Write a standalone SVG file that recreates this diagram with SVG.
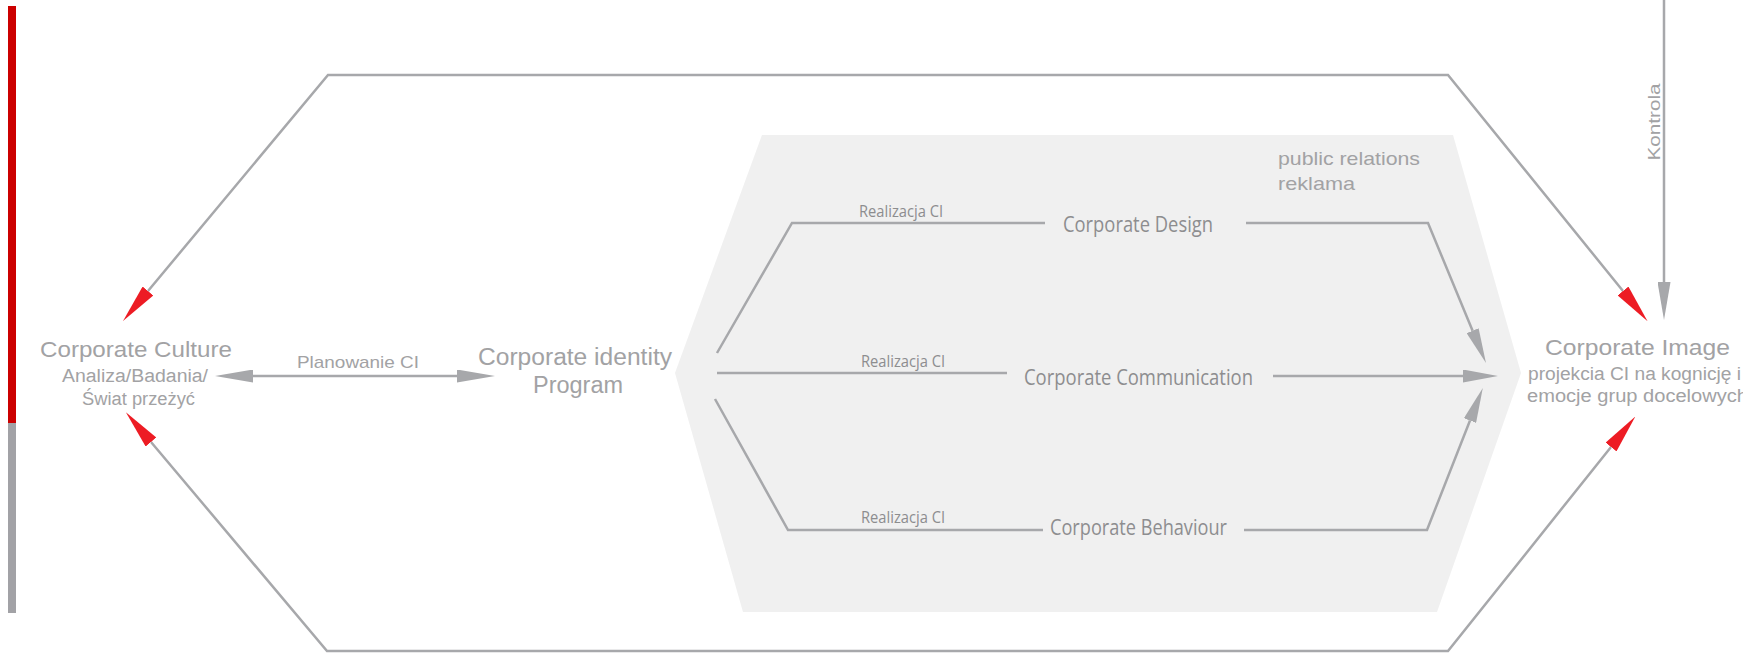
<svg xmlns="http://www.w3.org/2000/svg" width="1743" height="653" viewBox="0 0 1743 653">
  <style>
    .g { font-family: "Liberation Sans", "DejaVu Sans", sans-serif; fill: #a2a2a4; }
    .m { font-family: "Open Sans", "Liberation Sans", sans-serif; fill: #8d8d8f; }
    .ln { fill: none; stroke: #a7a8ab; stroke-width: 2.5; stroke-linejoin: miter; }
  </style>
  <defs>
    <marker id="redHead" viewBox="0 0 39 14" refX="0" refY="7" markerWidth="39" markerHeight="14" orient="auto-start-reverse" markerUnits="userSpaceOnUse">
      <path d="M0,0 L39,7 L0,14 z" fill="#ed1c24"/>
    </marker>
    <marker id="grayHead" viewBox="0 0 38 13" refX="0" refY="6.5" markerWidth="38" markerHeight="13" orient="auto-start-reverse" markerUnits="userSpaceOnUse">
      <path d="M0,0 L38,6.5 L0,13 z" fill="#a7a8ab"/>
    </marker>
    <marker id="grayHeadS" viewBox="0 0 35 13" refX="0" refY="6.5" markerWidth="35" markerHeight="13" orient="auto" markerUnits="userSpaceOnUse">
      <path d="M0,0 L35,6.5 L0,13 z" fill="#a7a8ab"/>
    </marker>
  </defs>

  <g id="sidebar">
    <rect x="8" y="6" width="8" height="417" fill="#cc0000"/>
    <rect x="8" y="423" width="8" height="190" fill="#a2a2a6"/>
  </g>

  <g id="realization-area">
    <polygon points="762,135 1453,135 1521,373 1437,612 743,612 675,373" fill="#f0f0f0"/>
  </g>

  <g id="connectors">
    <path class="ln" d="M148,291 L328,75 L1448,75 L1623,291" marker-start="url(#redHead)" marker-end="url(#redHead)"/>
    <path class="ln" d="M151,442 L327,651 L1448,651 L1611,447" marker-start="url(#redHead)" marker-end="url(#redHead)"/>
    <path class="ln" d="M253,376 L457,376" marker-start="url(#grayHead)" marker-end="url(#grayHead)"/>
    <path class="ln" d="M1664,0 L1664,282" marker-end="url(#grayHead)"/>
    <path class="ln" d="M717,353 L792,223 L1045,223"/>
    <path class="ln" d="M717,373 L1007,373"/>
    <path class="ln" d="M715,399 L788,530 L1043,530"/>
    <path class="ln" d="M1246,223 L1428,223 L1472.6,330.7" marker-end="url(#grayHeadS)"/>
    <path class="ln" d="M1273,376 L1463,376" marker-end="url(#grayHeadS)"/>
    <path class="ln" d="M1244,530 L1427,530 L1470,420.5" marker-end="url(#grayHeadS)"/>
    <text class="g" x="297" y="368" font-size="17" textLength="122" lengthAdjust="spacingAndGlyphs">Planowanie CI</text>
    <text class="g" transform="translate(1660,122) rotate(-90)" text-anchor="middle" font-size="17" textLength="77" lengthAdjust="spacingAndGlyphs">Kontrola</text>
    <text class="m" x="859" y="217" font-size="16" textLength="84" lengthAdjust="spacingAndGlyphs">Realizacja CI</text>
    <text class="m" x="861" y="367" font-size="16" textLength="84" lengthAdjust="spacingAndGlyphs">Realizacja CI</text>
    <text class="m" x="861" y="523" font-size="16" textLength="84" lengthAdjust="spacingAndGlyphs">Realizacja CI</text>
  </g>

  <g id="corporate-culture">
    <text class="g" x="40" y="357" font-size="22" textLength="192" lengthAdjust="spacingAndGlyphs">Corporate Culture</text>
    <text class="g" x="62" y="382" font-size="18" textLength="146" lengthAdjust="spacingAndGlyphs">Analiza/Badania/</text>
    <text class="g" x="82" y="405" font-size="18" textLength="113" lengthAdjust="spacingAndGlyphs">Świat przeżyć</text>
  </g>

  <g id="corporate-identity-program">
    <text class="g" x="478" y="365" font-size="23" textLength="194" lengthAdjust="spacingAndGlyphs">Corporate identity</text>
    <text class="g" x="533" y="393" font-size="23" textLength="90" lengthAdjust="spacingAndGlyphs">Program</text>
  </g>

  <g id="corporate-design">
    <text class="m" x="1063" y="232" font-size="21" textLength="150" lengthAdjust="spacingAndGlyphs">Corporate Design</text>
  </g>

  <g id="corporate-communication">
    <text class="m" x="1024" y="385" font-size="21" textLength="229" lengthAdjust="spacingAndGlyphs">Corporate Communication</text>
  </g>

  <g id="corporate-behaviour">
    <text class="m" x="1050" y="535" font-size="21" textLength="177" lengthAdjust="spacingAndGlyphs">Corporate Behaviour</text>
  </g>

  <g id="public-relations">
    <text class="g" x="1278" y="165" font-size="19" textLength="142" lengthAdjust="spacingAndGlyphs">public relations</text>
    <text class="g" x="1278" y="190" font-size="19" textLength="77" lengthAdjust="spacingAndGlyphs">reklama</text>
  </g>

  <g id="corporate-image">
    <text class="g" x="1545" y="355" font-size="22" textLength="185" lengthAdjust="spacingAndGlyphs">Corporate Image</text>
    <text class="g" x="1528" y="380" font-size="18" textLength="213" lengthAdjust="spacingAndGlyphs">projekcia CI na kognicję i</text>
    <text class="g" x="1527" y="402" font-size="18" textLength="221" lengthAdjust="spacingAndGlyphs">emocje grup docelowych</text>
  </g>
</svg>
